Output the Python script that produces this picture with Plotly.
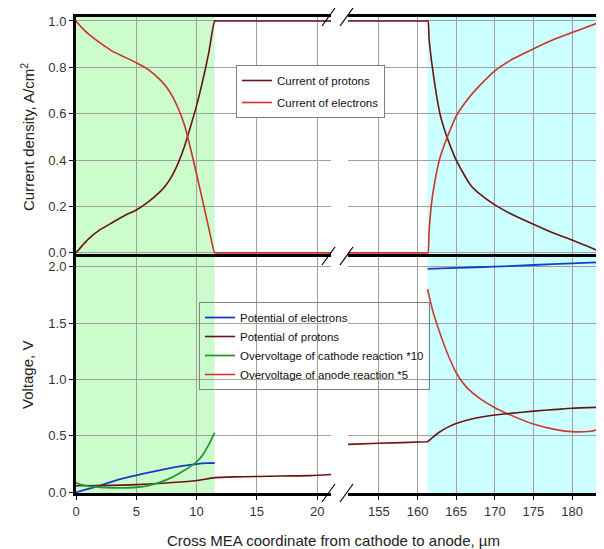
import plotly.graph_objects as go

# ---------------- data ----------------
# Top panel: current densities (A/cm^2)
x_cur_left = [0, 0.5, 1, 2, 3, 4, 5, 6, 7, 7.5, 8, 8.5, 9, 9.5, 10, 10.5, 11, 11.5, 11.6, 21.5]
j_el_left = [1.0, 0.97, 0.945, 0.905, 0.87, 0.845, 0.82, 0.79, 0.745, 0.715, 0.675, 0.62, 0.55, 0.45,
             0.34, 0.225, 0.11, 0.0, 0.0, 0.0]
j_pr_left = [0.0, 0.03, 0.058, 0.10, 0.13, 0.16, 0.185, 0.22, 0.265, 0.295, 0.335, 0.39, 0.46, 0.545,
             0.635, 0.74, 0.86, 1.0, 1.0, 1.0]

x_cur_right = [150, 161.2, 161.35, 161.5, 161.8, 162, 162.45, 162.9, 163.4, 163.8, 165, 166.8, 168,
               170, 172, 174.7, 178, 180, 182, 184]
j_el_right = [0.0, 0.0, 0.0, 0.10, 0.21, 0.26, 0.345, 0.41, 0.46, 0.495, 0.59, 0.675, 0.72, 0.785, 0.83,
              0.875, 0.925, 0.95, 0.975, 1.0]
j_pr_right = [1.0, 1.0, 1.0, 0.92, 0.83, 0.78, 0.68, 0.60, 0.54, 0.50, 0.40, 0.295, 0.255, 0.207,
              0.17, 0.128, 0.08, 0.055, 0.028, 0.0]

# Bottom panel: voltages (V)
x_phi_e_left = [0, 1, 2, 3, 4, 5, 6, 7, 8, 9, 10, 10.8, 11.5]
phi_e_left = [0.0, 0.03, 0.06, 0.095, 0.125, 0.15, 0.175, 0.197, 0.218, 0.237, 0.25, 0.258, 0.26]
x_phi_e_right = [161.3, 165, 170, 175, 180, 184]
phi_e_right = [1.98, 1.99, 2.0, 2.015, 2.03, 2.04]

x_phi_p_left = [0, 2, 5, 8, 10, 11.5, 13, 15, 17, 19.4, 21.5]
phi_p_left = [0.058, 0.06, 0.068, 0.087, 0.105, 0.13, 0.137, 0.14, 0.145, 0.148, 0.16]
x_phi_p_right = [150, 155, 161.2, 161.3, 162, 162.9, 164, 165, 167, 170, 172, 175, 178, 180, 184]
phi_p_right = [0.423, 0.435, 0.448, 0.449, 0.49, 0.537, 0.58, 0.61, 0.65, 0.685, 0.70, 0.72, 0.735,
               0.745, 0.755]

x_eta_c = [0, 0.5, 1, 2, 3, 4, 5, 6, 7, 8, 9, 9.5, 10, 10.5, 11, 11.5]
eta_c = [0.085, 0.065, 0.055, 0.045, 0.04, 0.04, 0.045, 0.06, 0.09, 0.135, 0.195, 0.23, 0.27, 0.33,
         0.42, 0.53]

x_eta_a = [161.3, 162, 162.9, 163.7, 165, 166.3, 168, 170, 171.7, 175, 177.6, 180, 182.4, 184]
eta_a = [1.80, 1.60, 1.41, 1.26, 1.06, 0.935, 0.835, 0.75, 0.695, 0.605, 0.56, 0.538, 0.542, 0.567]

left_ticks = [0, 5, 10, 15, 20]
right_ticks = [155, 160, 165, 170, 175, 180]
top_y_ticks = [0.0, 0.2, 0.4, 0.6, 0.8, 1.0]
bot_y_ticks = [0.0, 0.5, 1.0, 1.5, 2.0]

cathode_span = [0, 11.5]
anode_span = [161.3, 184]

# ---------------- styling ----------------
# page has an 8px body margin; work in page pixel coordinates
OFF = 8
PAGE_W, PAGE_H = 604, 549
W, H = PAGE_W - OFF, PAGE_H - OFF
PL, PR, PT, PB = 76, 603, 17, 493          # plot area in page pixels
ML, MR, MT, MB = PL - OFF, PAGE_W - PR, PT - OFF, PAGE_H - PB
PW, PH = PR - PL, PB - PT
FONT = "Arial, Liberation Sans, sans-serif"

def px2x(px):
    return (px - PL) / PW

def py2y(py):
    return (PB - py) / PH

C_PR = "#6a1414"
C_EL = "#cc3328"
C_BLUE = "#1a3cc4"
C_GREEN = "#2a962e"
C_ANODE = "#cc3a34"
GRID = "#a0a0a0"
GREEN_BG = "#ccfccc"
CYAN_BG = "#ccffff"

left_dom = [0, px2x(331)]
right_dom = [px2x(348), 1]
top_dom = [py2y(254), 1]
bot_dom = [0, py2y(257)]

def ln(color, width=1.6):
    return dict(color=color, width=width, shape="spline", smoothing=0.6)

fig = go.Figure()

# top panel traces
fig.add_trace(go.Scatter(x=x_cur_left, y=j_pr_left, mode="lines", line=ln(C_PR),
                         name="Current of protons", xaxis="x3", yaxis="y3", legend="legend2",
                         legendgroup="a"))
fig.add_trace(go.Scatter(x=x_cur_left, y=j_el_left, mode="lines", line=ln(C_EL),
                         name="Current of electrons", xaxis="x3", yaxis="y3", legend="legend2",
                         legendgroup="b"))
fig.add_trace(go.Scatter(x=x_cur_right, y=j_pr_right, mode="lines", line=ln(C_PR),
                         showlegend=False, xaxis="x4", yaxis="y4"))
fig.add_trace(go.Scatter(x=x_cur_right, y=j_el_right, mode="lines", line=ln(C_EL),
                         showlegend=False, xaxis="x4", yaxis="y4"))

# bottom panel traces
fig.add_trace(go.Scatter(x=x_phi_e_left, y=phi_e_left, mode="lines", line=ln(C_BLUE, 1.8),
                         name="Potential of electrons", xaxis="x", yaxis="y", legend="legend"))
fig.add_trace(go.Scatter(x=x_phi_p_left, y=phi_p_left, mode="lines", line=ln(C_PR),
                         name="Potential of protons", xaxis="x", yaxis="y", legend="legend"))
fig.add_trace(go.Scatter(x=x_eta_c, y=eta_c, mode="lines", line=ln(C_GREEN, 1.8),
                         name="Overvoltage of cathode reaction *10", xaxis="x", yaxis="y", legend="legend"))
fig.add_trace(go.Scatter(x=x_eta_a, y=eta_a, mode="lines", line=ln(C_ANODE),
                         name="Overvoltage of anode reaction *5", xaxis="x2", yaxis="y2", legend="legend"))
fig.add_trace(go.Scatter(x=x_phi_e_right, y=phi_e_right, mode="lines", line=ln(C_BLUE, 1.8),
                         showlegend=False, xaxis="x2", yaxis="y2"))
fig.add_trace(go.Scatter(x=x_phi_p_right, y=phi_p_right, mode="lines", line=ln(C_PR),
                         showlegend=False, xaxis="x2", yaxis="y2"))

tickfont = dict(family=FONT, size=13, color="#333333")
line_kw = dict(showline=True, linecolor="black", linewidth=3, mirror=True)

def xax(dom, rng, ticks, anchor, labels):
    return dict(domain=dom, range=rng, tickvals=ticks, anchor=anchor, showgrid=True, gridcolor=GRID,
                gridwidth=1, zeroline=False, ticks="outside" if labels else "", ticklen=4,
                tickcolor="black", showticklabels=labels, tickfont=tickfont, **line_kw)

def yax(dom, rng, ticks, anchor, side, labels):
    return dict(domain=dom, range=rng, tickvals=ticks, anchor=anchor, side=side, showgrid=True,
                gridcolor=GRID, gridwidth=1, zeroline=False, ticks="outside" if labels else "",
                ticklen=4, tickcolor="black", showticklabels=labels, tickfont=tickfont,
                tickformat=".1f", showline=True, linecolor="black", linewidth=3, mirror=False)

top_rng = [-0.005, 1.017]
bot_rng = [-0.006, 2.086]
left_rng = [0, 21.15]
right_rng = [151, 184]

fig.update_layout(
    width=W, height=H,
    margin=dict(l=ML, r=MR, t=MT, b=MB, autoexpand=False),
    paper_bgcolor="white", plot_bgcolor="white",
    font=dict(family=FONT, size=11, color="#222"),
    xaxis=xax(left_dom, left_rng, left_ticks, "y", True),
    xaxis2=xax(right_dom, right_rng, right_ticks, "y2", True),
    xaxis3=xax(left_dom, left_rng, left_ticks, "y3", False),
    xaxis4=xax(right_dom, right_rng, right_ticks, "y4", False),
    yaxis=yax(bot_dom, bot_rng, bot_y_ticks, "x", "left", True),
    yaxis2=yax(bot_dom, bot_rng, bot_y_ticks, "x2", "right", False),
    yaxis3=yax(top_dom, top_rng, top_y_ticks, "x3", "left", True),
    yaxis4=yax(top_dom, top_rng, top_y_ticks, "x4", "right", False),
    legend=dict(x=px2x(199), y=py2y(302), xanchor="left", yanchor="top",
                bgcolor="rgba(0,0,0,0)", bordercolor="#808080", borderwidth=1,
                font=dict(family=FONT, size=11.5, color="#111")),
    legend2=dict(x=px2x(236), y=py2y(65), xanchor="left", yanchor="top",
                 bgcolor="white", bordercolor="#808080", borderwidth=1, tracegroupgap=3,
                 font=dict(family=FONT, size=11.5, color="#111")),
    showlegend=True,
)

# shaded electrode regions
shapes = []
for xr, yr in (("x", "y"), ("x3", "y3")):
    shapes.append(dict(type="rect", xref=xr, yref=yr, x0=cathode_span[0], x1=cathode_span[1],
                       y0=-1, y1=3, fillcolor=GREEN_BG, line=dict(width=0), layer="below"))
for xr, yr in (("x2", "y2"), ("x4", "y4")):
    shapes.append(dict(type="rect", xref=xr, yref=yr, x0=anode_span[0], x1=anode_span[1],
                       y0=-1, y1=3, fillcolor=CYAN_BG, line=dict(width=0), layer="below"))

# axis-break marks
for yc in (17, 256, 493):
    for x0 in (322, 340):
        shapes.append(dict(type="line", xref="paper", yref="paper",
                           x0=px2x(x0), y0=py2y(yc + 9), x1=px2x(x0 + 13), y1=py2y(yc - 9),
                           line=dict(color="black", width=1.2), layer="above"))
fig.update_layout(shapes=shapes)

title_font = dict(family=FONT, size=15, color="#222")
fig.add_annotation(text="Cross MEA coordinate from cathode to anode, \u00b5m", xref="paper", yref="paper",
                   x=px2x(333), y=py2y(540), showarrow=False, font=title_font,
                   xanchor="center", yanchor="middle")
fig.add_annotation(text="Current density, A/cm<sup>2</sup>", xref="paper", yref="paper",
                   x=px2x(27), y=py2y(137), showarrow=False, font=title_font, textangle=-90,
                   xanchor="center", yanchor="middle")
fig.add_annotation(text="Voltage, V", xref="paper", yref="paper",
                   x=px2x(27), y=py2y(375), showarrow=False, font=title_font, textangle=-90,
                   xanchor="center", yanchor="middle")

fig.write_html("out.html")
